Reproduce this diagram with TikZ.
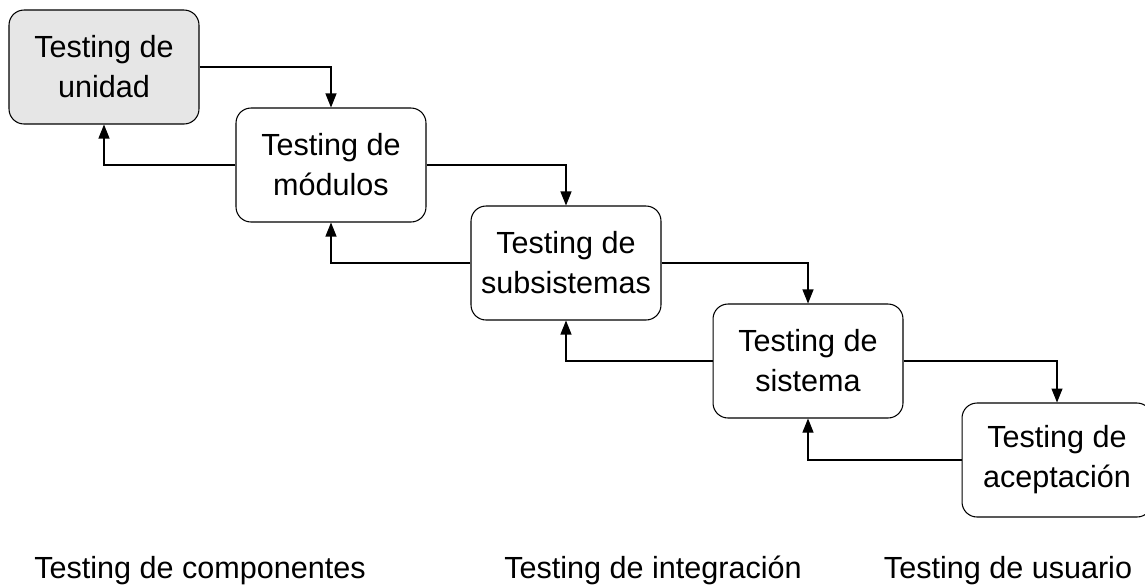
\documentclass[tikz,border=0pt]{standalone}
\usepackage{fontspec}
\setmainfont{Liberation Sans}
\usepackage{tikz}
\usetikzlibrary{arrows.meta}

\definecolor{boxgray}{RGB}{230,230,230}

\begin{document}
\begin{tikzpicture}[
        x=0.02cm, y=-0.02cm,
        box/.style={
            rectangle,
            draw,
            line width=0.6pt,
            minimum width=3.8cm,
            minimum height=2.28cm,
            align=center,
            rounded corners=0.3cm,
            font=\fontsize{17.4}{22.8}\selectfont
        },
        arrow/.style={
            -{Triangle[length=0.28cm,width=0.22cm]},
            line width=0.6pt
        },
        level/.style={
            anchor=base,
            font=\fontsize{17.4}{22.8}\selectfont
        }
    ]

    % Page size
    \useasboundingbox (0,0) rectangle (1145,586);
    \clip (0,0) rectangle (1145,586);

    % Test stages
    \node[box, fill=boxgray] (unidad) at (104,67) {Testing de\\unidad};
    \node[box] (modulos) at (331,165) {Testing de\\módulos};
    \node[box] (subsis) at (566,263) {Testing de\\subsistemas};
    \node[box] (sistema) at (808,361) {Testing de\\sistema};
    \node[box] (acept) at (1057,460) {Testing de\\aceptación};

    % Forward connections
    \draw[arrow] (unidad.east) -| (modulos.north);
    \draw[arrow] (modulos.east) -| (subsis.north);
    \draw[arrow] (subsis.east) -| (sistema.north);
    \draw[arrow] (sistema.east) -| (acept.north);

    % Back connections
    \draw[arrow] (modulos.west) -| (unidad.south);
    \draw[arrow] (subsis.west) -| (modulos.south);
    \draw[arrow] (sistema.west) -| (subsis.south);
    \draw[arrow] (acept.west) -| (sistema.south);

    % Test levels
    \node[level] (compo) at (200,578) {Testing de componentes};
    \node[level] (integ) at (653,578) {Testing de integración};
    \node[level] (usuario) at (1008,578) {Testing de usuario};

\end{tikzpicture}
\end{document}
